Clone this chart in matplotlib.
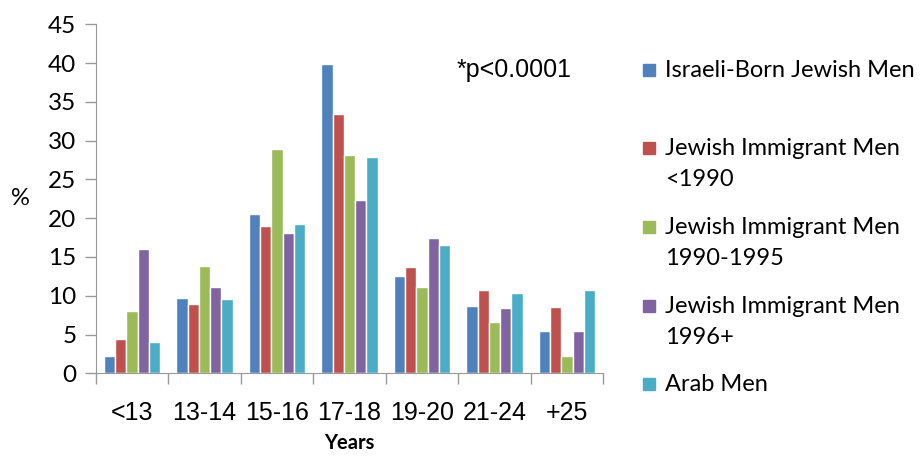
import numpy as np
import matplotlib
matplotlib.use('Agg')
import matplotlib.pyplot as plt
from matplotlib.patches import Rectangle

# age groups at first conviction
categories = ['<13', '13-14', '15-16', '17-18', '19-20', '21-24', '+25']

israeli_born = [2.3, 9.7, 20.5, 39.9, 12.5, 8.7, 5.4]
immig_pre1990 = [4.4, 8.9, 19.0, 33.4, 13.7, 10.7, 8.5]
immig_1990_95 = [8.1, 13.9, 28.9, 28.1, 11.1, 6.6, 2.3]
immig_1996 = [16.0, 11.1, 18.1, 22.4, 17.5, 8.4, 5.4]
arab_men = [4.1, 9.6, 19.3, 27.9, 16.6, 10.4, 10.7]

series_names = ['Israeli-Born Jewish Men', 'Jewish Immigrant Men\n<1990',
                'Jewish Immigrant Men\n1990-1995', 'Jewish Immigrant Men\n1996+',
                'Arab Men']
colors = ['#4F81BD', '#C0504D', '#9BBB59', '#8064A2', '#4BACC6']
all_series = [israeli_born, immig_pre1990, immig_1990_95, immig_1996, arab_men]

fig = plt.figure(figsize=(9.21, 4.57), dpi=100)
ax = fig.add_axes([0.104, 0.183, 0.551, 0.764])

x = np.arange(len(categories))
step = 0.156
for i, (vals, c) in enumerate(zip(all_series, colors)):
    ax.bar(x + (i - 2) * step, vals, width=step, color=c,
           edgecolor='white', linewidth=1.0)

ax.set_xlim(-0.5, len(categories) - 0.5)
ax.set_ylim(0, 45)
ax.set_yticks(range(0, 46, 5))
ax.set_xticks(x)
ax.set_xticklabels(categories, fontsize=18, family='Liberation Sans')
ax.set_xticks(np.arange(-0.5, len(categories)), minor=True)
ax.tick_params(axis='x', which='major', length=0, pad=20)
ax.tick_params(axis='x', which='minor', length=8, color='#999999', width=1)
ax.tick_params(axis='y', length=8, color='#999999', width=1, labelsize=17.5, pad=6)
for lbl in ax.get_yticklabels():
    lbl.set_family('Lato')

for s in ['top', 'right']:
    ax.spines[s].set_visible(False)
for s in ['left', 'bottom']:
    ax.spines[s].set_color('#999999')

ax.set_xlabel('Years', fontsize=14.5, family='Lato', fontweight='bold', labelpad=6)
ax.set_ylabel('%', fontsize=17, family='Lato', rotation=0, labelpad=20, va='center')

fig.text(457 / 921, 1 - 70 / 457, '*p<0.0001', fontsize=18, family='Liberation Sans',
         va='center', ha='left')

# legend drawn by hand to keep the uneven spacing
leg_y = [70, 148, 227, 306, 384]
for name, c, yy in zip(series_names, colors, leg_y):
    fig.patches.append(Rectangle((643 / 921, 1 - (yy + 6) / 457), 12 / 921, 12 / 457,
                                 transform=fig.transFigure, color=c))
    fig.text(665 / 921, 1 - (yy - 10) / 457, name, fontsize=17, family='Lato',
             va='top', ha='left', linespacing=1.6)

fig.savefig('out.png', dpi=100)
